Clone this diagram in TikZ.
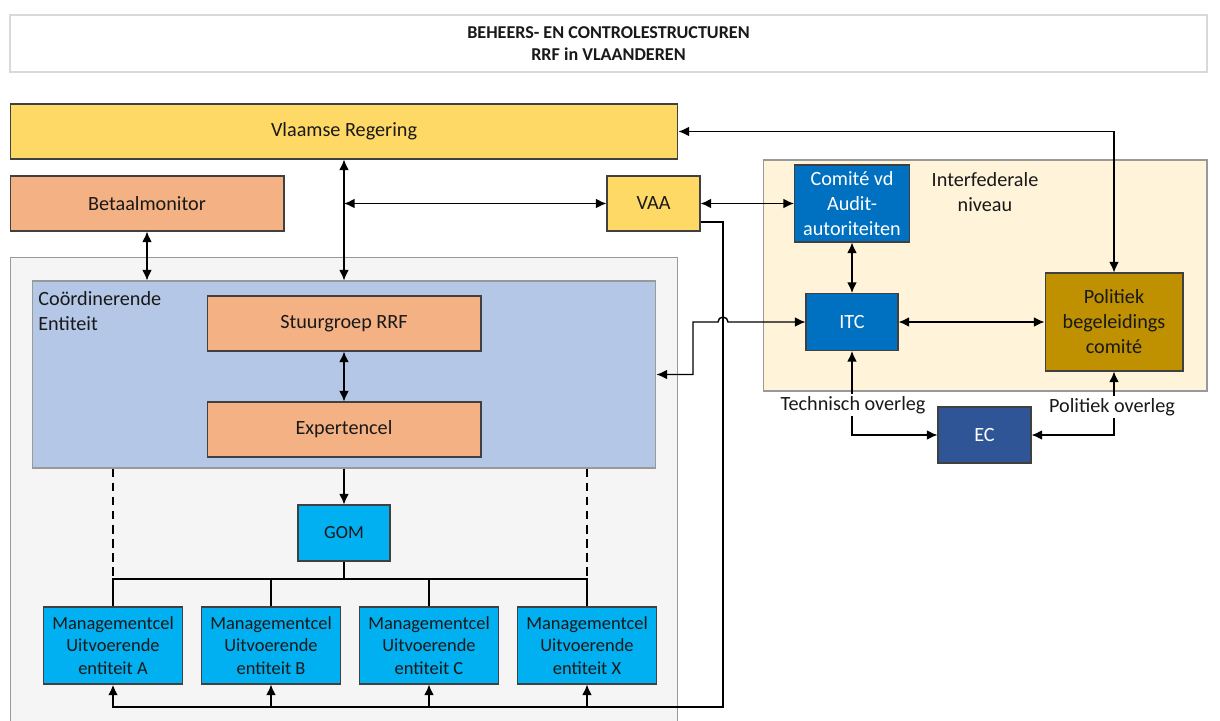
\documentclass[tikz,border=0pt]{standalone}
\usepackage{fontspec}
\setmainfont{Carlito}
\usepackage{tikz}
\usetikzlibrary{arrows.meta}
\usetikzlibrary{positioning}
\definecolor{geel}{HTML}{FFD966}
\definecolor{oranje}{HTML}{F4B183}
\definecolor{lichtblauw}{HTML}{B4C7E7}
\definecolor{grijs}{HTML}{F5F5F5}
\definecolor{creme}{HTML}{FFF3D9}
\definecolor{cyaan}{HTML}{00B0F0}
\definecolor{blauw}{HTML}{0070C0}
\definecolor{goud}{HTML}{BF9000}
\definecolor{ecblauw}{HTML}{2F5597}
\tikzstyle{blok}=[draw=black!75, line width=0.6pt, align=center, inner sep=0pt, text=black!90, font=\fontsize{11.5}{14.2}\selectfont]
\tikzstyle{kleinblok}=[blok, fill=cyaan, font=\fontsize{10.5}{12.8}\selectfont, minimum width=2.78cm, minimum height=1.54cm]
\tikzstyle{kader}=[draw=black!40, line width=0.6pt, inner sep=0pt]
\tikzstyle{lijn}=[thick, >={Latex[length=6pt,width=5.5pt]}]
\tikzstyle{label}=[fill=white, inner sep=1pt, text=black!90, font=\fontsize{11.5}{14.2}\selectfont]

\begin{document}
\begin{tikzpicture}[x=0.02cm, y=-0.02cm]

   \useasboundingbox (0,0) rectangle (1220,720);

   % kaders
   \node[kader, draw=black!15, line width=1pt, fill=white, minimum width=23.94cm, minimum height=1.14cm, align=center, text=black!90, font=\bfseries\fontsize{10.3}{13}\selectfont] (titel) at (608.5,43.5) {BEHEERS- EN CONTROLESTRUCTUREN\\RRF in VLAANDEREN};
   \node[kader, fill=grijs, minimum width=13.36cm, minimum height=9.4cm] (uitv) at (344,492) {};
   \node[kader, fill=lichtblauw, minimum width=12.48cm, minimum height=3.74cm] (coord) at (344,374.5) {};
   \node[kader, fill=creme, minimum width=8.88cm, minimum height=4.62cm] (inter) at (985,275.5) {};

   \node[anchor=north west, align=left, inner sep=0pt, text=black!90, font=\fontsize{11.5}{14.2}\selectfont] (coordtxt) at (38,291) {Coördinerende\\Entiteit};
   \node[align=center, inner sep=0pt, text=black!90, font=\fontsize{11.5}{14.2}\selectfont] (intertxt) at (985,192) {Interfederale\\niveau};

   % blokken
   \node[blok, fill=geel, minimum width=13.36cm, minimum height=1.1cm] (vr) at (344,131.5) {Vlaamse Regering};
   \node[blok, fill=oranje, minimum width=5.48cm, minimum height=1.1cm] (betaal) at (147,203.5) {Betaalmonitor};
   \node[blok, fill=geel, minimum width=1.86cm, minimum height=1.1cm] (vaa) at (653.5,203.5) {VAA};
   \node[blok, fill=oranje, minimum width=5.48cm, minimum height=1.1cm] (stuur) at (344,323.5) {Stuurgroep RRF};
   \node[blok, fill=oranje, minimum width=5.48cm, minimum height=1.1cm] (expert) at (344,429.5) {Expertencel};
   \node[blok, fill=cyaan, font=\fontsize{10.5}{12.8}\selectfont, minimum width=1.84cm, minimum height=1.12cm] (gom) at (344,533) {GOM};

   \foreach \pos/\name/\letter in {113/mca/A, 271/mcb/B, 429/mcc/C, 587/mcx/X}
        \node[kleinblok] (\name) at (\pos,645.5) {Managementcel\\Uitvoerende\\entiteit \letter};

   \node[blok, fill=blauw, text=white, minimum width=2.3cm, minimum height=1.54cm] (comite) at (852,203.5) {Comité vd\\Audit-\\autoriteiten};
   \node[blok, fill=blauw, text=white, minimum width=1.84cm, minimum height=1.14cm] (itc) at (852,322) {ITC};
   \node[blok, fill=goud, minimum width=2.76cm, minimum height=1.96cm] (pol) at (1114,322) {Politiek\\begeleidings\\comité};
   \node[blok, fill=ecblauw, text=white, minimum width=1.86cm, minimum height=1.12cm] (ec) at (984.5,435) {EC};

   \coordinate (knik) at (344,203.5);
   \coordinate (bus) at (344,579);
   \coordinate (onder) at (723,707);

   % verbindingen
   \draw[lijn, <->] (vr.east) -| (pol.north);
   \draw[lijn, <->] (vr.south) -- (coord.north);
   \draw[lijn, <->] (knik) -- (vaa.west);
   \draw[lijn, <->] (betaal.south) -- (betaal.south |- coord.north);
   \draw[lijn, <->] (vaa.east) -- (comite.west);
   \draw[lijn, <->] (stuur.south) -- (expert.north);
   \draw[lijn, ->] (coord.south) -- (gom.north);
   \draw[lijn] (gom.south) -- (bus);
   \draw[lijn] (mca.north) |- (bus) -| (mcx.north);
   \foreach \name in {mcb, mcc}
        \draw[lijn] (\name.north) -- (\name.north |- bus);
   \draw[lijn, dash pattern=on 5pt off 3pt] (mca.north |- coord.south) -- (mca.north |- bus);
   \draw[lijn, dash pattern=on 5pt off 3pt] (mcx.north |- coord.south) -- (mcx.north |- bus);

   \draw[line width=1.3pt, >={Latex[length=6pt,width=5.5pt]}, ->] ([yshift=-0.37cm]vaa.east) -| (onder) -| (mca.south);
   \foreach \name in {mcb, mcc, mcx}
        \draw[lijn, ->] (\name.south |- onder) -- (\name.south);

   \draw[lijn, <->] (coord.east) -- (693,374.5) -- (693,322) -- (718,322) arc (180:360:5) -- (itc.west);
   \draw[lijn, <->] (comite.south) -- (itc.north);
   \draw[lijn, <->] (itc.east) -- (pol.west);
   \draw[lijn, <->] (itc.south) |- (ec.west);
   \draw[lijn, <->] (pol.south) |- (ec.east);

   \node[label] (techlbl) at (853,405) {Technisch overleg};
   \node[label] (pollbl) at (1112,407) {Politiek overleg};

\end{tikzpicture}
\end{document}
